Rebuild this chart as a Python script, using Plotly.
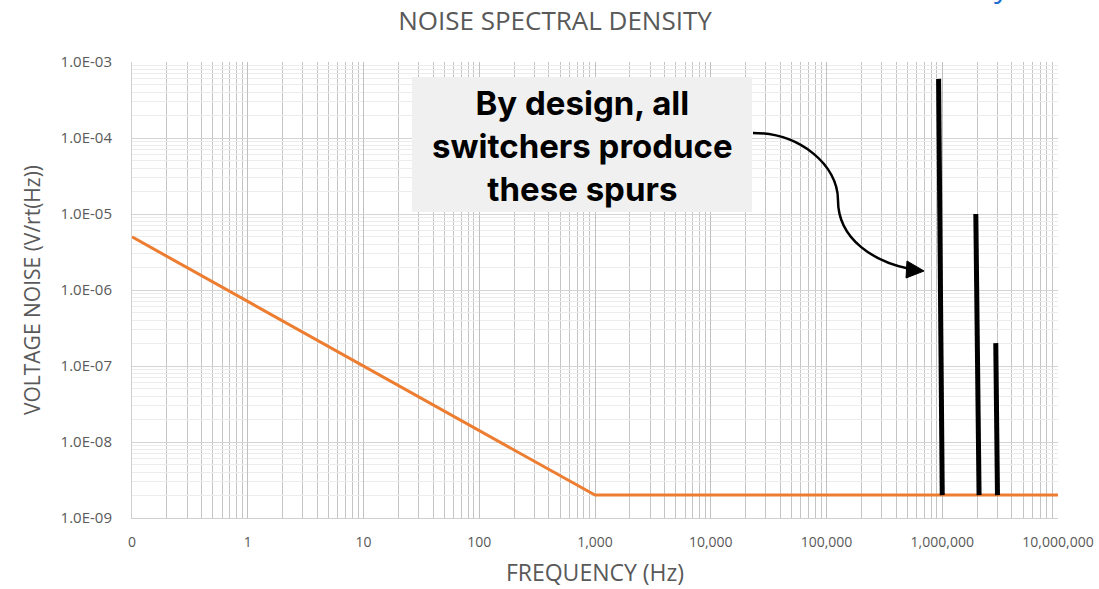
"""Noise spectral density of a switcher, with its spurs."""

import plotly.graph_objects as go

# data
noise_freq = [0.1, 1000, 10000000]
noise_vrthz = [5.0e-6, 2.0e-9, 2.0e-9]

# spurs: each one runs from its peak down to the noise floor
spur_top_freq = [9.3e5, 1.95e6, 2.9e6]
spur_top_v = [6.0e-4, 1.0e-5, 2.0e-7]
spur_base_freq = [1.0e6, 2.08e6, 3.0e6]
spur_base_v = [2.0e-9, 2.0e-9, 2.0e-9]

x_tickvals = [0.1, 1, 10, 100, 1000, 10000, 100000, 1000000, 10000000]
x_ticktext = ["0", "1", "10", "100", "1,000", "10,000", "100,000",
              "1,000,000", "10,000,000"]
y_tickvals = [1e-9, 1e-8, 1e-7, 1e-6, 1e-5, 1e-4, 1e-3]
y_ticktext = ["1.0E-09", "1.0E-08", "1.0E-07", "1.0E-06", "1.0E-05",
              "1.0E-04", "1.0E-03"]

W, H = 1099, 589
L, R, T, B = 132, 41, 62, 71
GRAY = "#595959"
FONT = "Open Sans"


def px2paper(x, y):
    """Pixel position in the page -> paper coords of the plot area."""
    return (x - L) / (W - L - R), (H - B - y) / (H - T - B)


def path_from_px(cmds):
    out = []
    for c in cmds:
        if isinstance(c, str):
            out.append(c)
        else:
            px, py = px2paper(*c)
            out.append("%.4f,%.4f" % (px, py))
    return " ".join(out)


spur_x, spur_y = [], []
for i in range(len(spur_top_freq)):
    spur_x += [spur_top_freq[i], spur_base_freq[i], None]
    spur_y += [spur_top_v[i], spur_base_v[i], None]

fig = go.Figure()
fig.add_trace(go.Scatter(x=noise_freq, y=noise_vrthz, mode="lines",
                         line=dict(color="#ED7D31", width=3),
                         showlegend=False))
fig.add_trace(go.Scatter(x=spur_x, y=spur_y, mode="lines",
                         line=dict(color="black", width=5),
                         showlegend=False))

fig.update_xaxes(
    type="log", range=[-1, 7], tickvals=x_tickvals, ticktext=x_ticktext,
    showgrid=True, gridcolor="#c0c0c0", gridwidth=1,
    minor=dict(dtick="D1", showgrid=True, gridcolor="#c4c4c4", gridwidth=1),
    showline=True, linecolor="#d0d0d0", zeroline=False, ticks="",
    ticklabelstandoff=11, automargin=False,
    tickfont=dict(family=FONT, size=14, color=GRAY),
    title=dict(text="FREQUENCY (Hz)", standoff=15,
               font=dict(family=FONT, size=23, color=GRAY)),
)
fig.update_yaxes(
    type="log", range=[-9, -3], tickvals=y_tickvals, ticktext=y_ticktext,
    showgrid=True, gridcolor="#d4d4d4", gridwidth=1,
    minor=dict(dtick="D1", showgrid=True, gridcolor="#ececec", gridwidth=1),
    showline=True, linecolor="#d0d0d0", zeroline=False, ticks="",
    ticklabelstandoff=16, automargin=False,
    tickfont=dict(family=FONT, size=15, color=GRAY),
    title=dict(text="VOLTAGE NOISE (V/rt(Hz))", standoff=14,
               font=dict(family=FONT, size=21, color=GRAY)),
)

# callout box
bx0, by0 = px2paper(412, 212)
bx1, by1 = px2paper(752, 77)
fig.add_shape(type="rect", xref="paper", yref="paper",
              x0=bx0, y0=by0, x1=bx1, y1=by1,
              fillcolor="#f0f0f0", line=dict(width=0), layer="above")
cx, cy = px2paper(582, 146)
fig.add_annotation(xref="paper", yref="paper", x=cx, y=cy,
                   xanchor="center", yanchor="middle",
                   text="<b>By design, all<br>switchers produce<br>these spurs</b>",
                   showarrow=False, align="center",
                   font=dict(family="Inter", size=33, color="black"))

# curved arrow to the spurs
fig.add_shape(type="path", xref="paper", yref="paper",
              path=path_from_px(["M", (753, 133), "C", (800, 133), (838, 165),
                                 (838, 200), "C", (838, 240), (875, 262),
                                 (910, 269)]),
              line=dict(color="black", width=2.5), layer="above")
fig.add_shape(type="path", xref="paper", yref="paper",
              path=path_from_px(["M", (924, 271), "L", (907, 261), "L",
                                 (906, 278), "Z"]),
              fillcolor="black", line=dict(color="black", width=1),
              layer="above")

# clipped text from the slide above the chart
yx, yy = px2paper(1002, 8)
fig.add_annotation(xref="paper", yref="paper", x=yx, y=yy, text="y",
                   showarrow=False, xanchor="center", yanchor="bottom",
                   font=dict(family=FONT, size=30, color="#1f6fd1"))

fig.update_layout(
    width=W, height=H,
    margin=dict(l=L, r=R, t=T, b=B, autoexpand=False),
    paper_bgcolor="white", plot_bgcolor="white",
    title=dict(text="NOISE SPECTRAL DENSITY", x=0.505, xanchor="center",
               y=0.965, yanchor="middle",
               font=dict(family=FONT, size=26, color=GRAY)),
)

fig.write_html("out.html", config={"displayModeBar": False},
               post_script="document.body.style.margin='0';")
